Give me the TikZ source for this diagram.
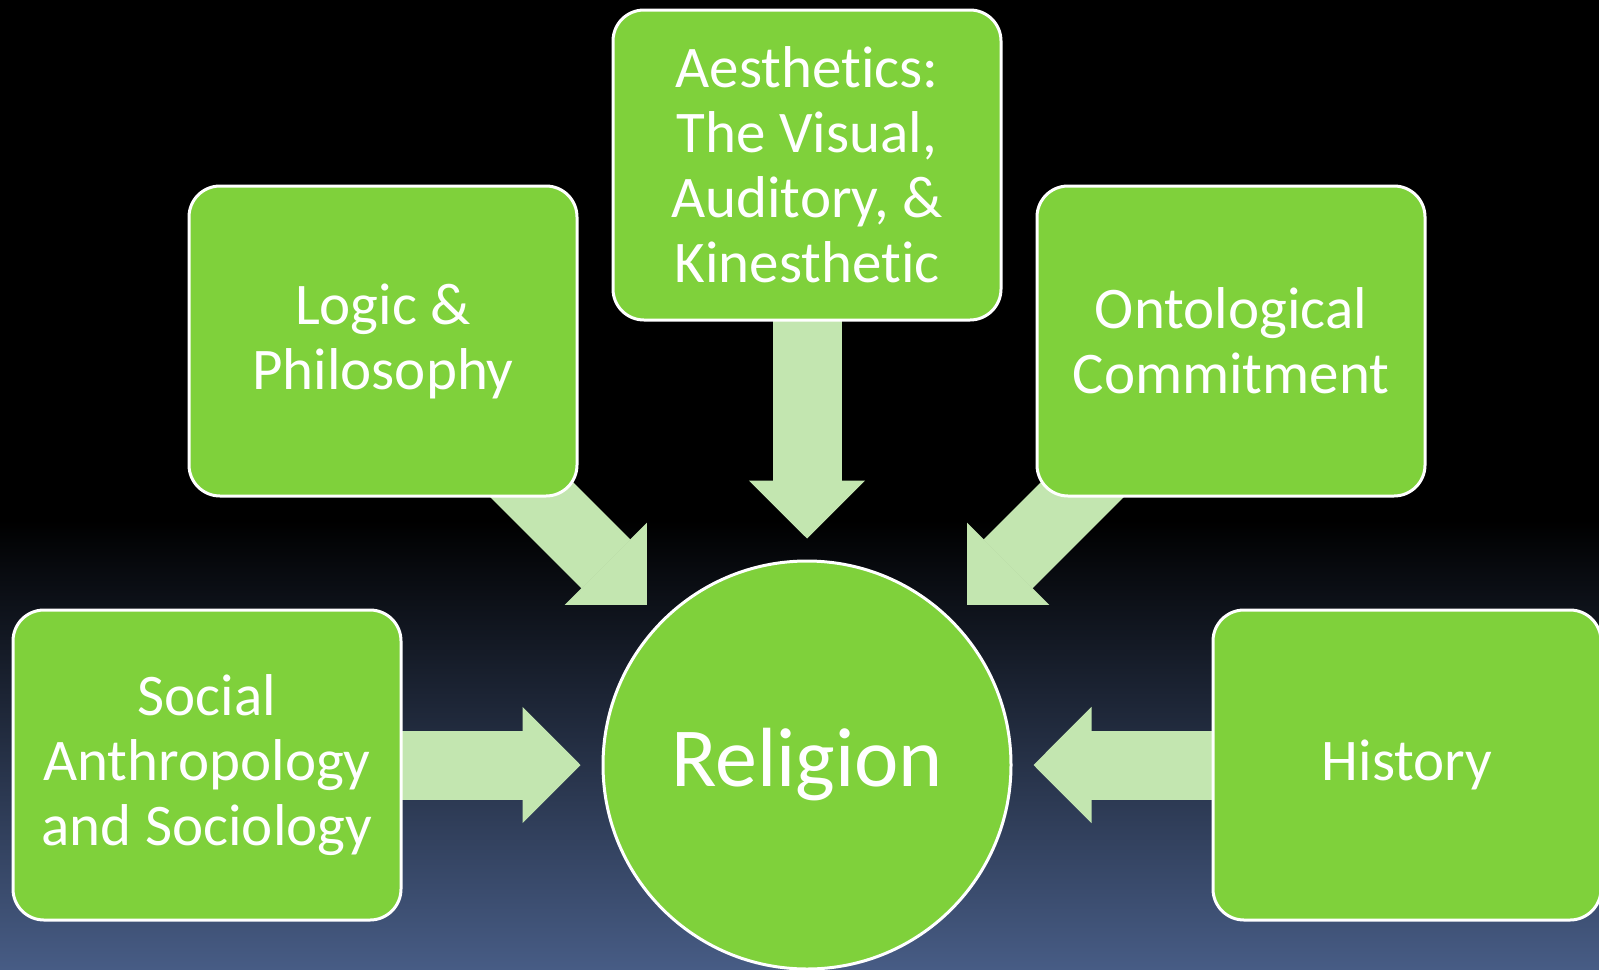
\documentclass[tikz,border=0pt]{standalone}
\usepackage{fontspec}
\setmainfont{Carlito}[RawFeature={-liga;-clig;-calt;-dlig}]
\usetikzlibrary{arrows.meta}
\definecolor{boxgreen}{HTML}{7FD13B}
\definecolor{arrowgreen}{HTML}{C3E6B0}
\definecolor{bgblue}{HTML}{475C85}
\pgfdeclarelayer{bg}
\pgfdeclarelayer{conn}
\pgfsetlayers{bg,conn,main}
\begin{document}
\begin{tikzpicture}[x=0.5pt,y=-0.5pt,
  topic/.style={draw=white, line width=1.5pt, fill=boxgreen, rounded corners=15.5pt,
    minimum width=194pt, minimum height=155pt, inner sep=0pt, text=white, align=center,
    font=\fontsize{29.5pt}{32.5pt}\selectfont},
  hub/.style={circle, draw=white, line width=1.5pt, fill=boxgreen, minimum size=204pt,
    inner sep=0pt, text=white, font=\fontsize{42pt}{48pt}\selectfont},
  flow/.style={draw=arrowgreen, line width=34.5pt,
    -{Triangle[width=58pt,length=29pt,line width=0.8pt]}, shorten >=10.5pt}]
\useasboundingbox (0,0) rectangle (1599,969);
\begin{pgfonlayer}{bg}
  \fill[black] (0,0) rectangle (1599,521);
  \shade[top color=black, bottom color=bgblue] (0,520) rectangle (1599,969);
\end{pgfonlayer}
\node[hub] (rel) at (807,765) {Religion};
\node[topic] (aes) at (807,165) {Aesthetics:\\The Visual,\\Auditory, \&\\Kinesthetic};
\node[topic] (logic) at (383,341) {Logic \&\\Philosophy};
\node[topic] (onto) at (1231,341) {Ontological\\Commitment};
\node[topic] (social) at (207,765) {Social\\Anthropology\\and Sociology};
\node[topic] (hist) at (1407,765) {History};
\begin{pgfonlayer}{conn}
  \draw[flow] (aes.center) -- (rel);
  \draw[flow] (logic.center) -- (rel);
  \draw[flow] (onto.center) -- (rel);
  \draw[flow] (social.center) -- (rel);
  \draw[flow] (hist.center) -- (rel);
\end{pgfonlayer}
\end{tikzpicture}
\end{document}
